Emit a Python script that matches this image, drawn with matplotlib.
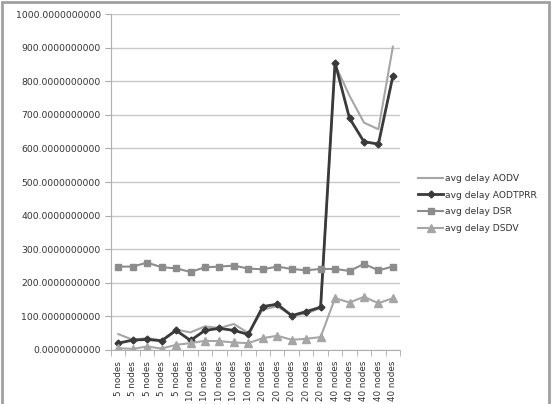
import numpy as np
import matplotlib.pyplot as plt
from matplotlib.patches import Rectangle
from matplotlib.ticker import FormatStrFormatter

# Data
categories = ['5 nodes'] * 5 + ['10 nodes'] * 5 + ['20 nodes'] * 5 + ['40 nodes'] * 5
aodv = [47, 30, 35, 28, 60, 52, 70, 65, 77, 50,
        120, 130, 102, 108, 125, 850, 757, 677, 657, 903]
aodtprr = [20, 29, 31, 27, 58, 28, 58, 64, 58, 46,
           129, 136, 102, 114, 127, 855, 690, 620, 613, 815]
dsr = [248, 248, 260, 246, 243, 232, 246, 248, 251, 242,
       240, 248, 241, 237, 241, 241, 235, 256, 237, 248]
dsdv = [5, 3, 10, 4, 15, 20, 27, 26, 22, 20,
        35, 42, 30, 33, 38, 154, 141, 158, 139, 154]
y_ticks = np.arange(0, 1001, 100)

fig = plt.figure(figsize=(5.58, 4.04), dpi=100)
ax = fig.add_axes([0.199, 0.134, 0.518, 0.831])

x = np.arange(len(categories))
ax.plot(x, aodv, color='#a6a6a6', lw=1.5, label='avg delay AODV')
ax.plot(x, aodtprr, color='#3a3a3a', lw=2, marker='D', ms=3.5, label='avg delay AODTPRR')
ax.plot(x, dsr, color='#8c8c8c', lw=1.5, marker='s', ms=5, label='avg delay DSR')
ax.plot(x, dsdv, color='#a6a6a6', lw=1.5, marker='^', ms=5.5, label='avg delay DSDV')

ax.set_xlim(-0.5, len(categories) - 0.5)
ax.set_ylim(0, 1000)
ax.set_yticks(y_ticks)
ax.yaxis.set_major_formatter(FormatStrFormatter('%.10f'))
ax.set_xticks(x)
ax.set_xticklabels(categories, rotation=90, fontsize=6.3, color='#333333')
ax.set_xticks(np.arange(-0.5, len(categories)), minor=True)
ax.tick_params(axis='x', which='major', length=0, pad=8)
ax.tick_params(axis='x', which='minor', length=4, color='#aaaaaa')
ax.tick_params(axis='y', labelsize=6.7, length=4, color='#aaaaaa', labelcolor='#333333')
ax.grid(axis='y', color='#c8c8c8', lw=1)
ax.set_axisbelow(True)
for s in ['top', 'right']:
    ax.spines[s].set_visible(False)
ax.spines['left'].set_color('#b0b0b0')
ax.spines['bottom'].set_color('#b0b0b0')

fig.legend(loc='upper left', bbox_to_anchor=(0.735, 0.59), frameon=False,
           fontsize=6.6, handlelength=2.7, handletextpad=0.2, labelspacing=0.85,
           labelcolor='#333333')

fig.patches.append(Rectangle((2 / 558, -0.01), 547 / 558, 1 - 2 / 404 + 0.01,
                             transform=fig.transFigure, fill=False,
                             edgecolor='#a0a0a0', lw=2))

plt.savefig('out.png')
